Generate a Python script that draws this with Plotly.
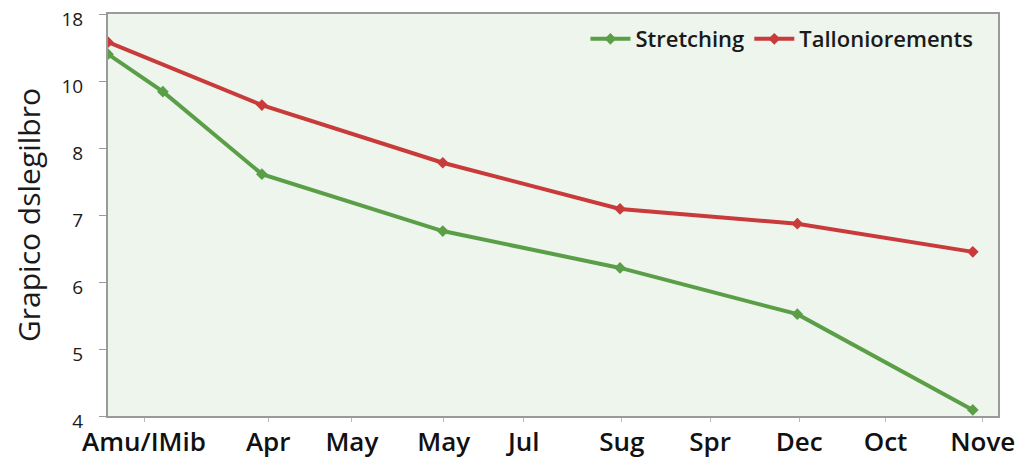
import plotly.graph_objects as go

# x tick labels and where they sit along the axis
month_labels = ["Amu/IMib", "Apr", "May", "May", "Jul", "Sug", "Spr", "Dec", "Oct", "Nove"]
month_pos = [0.4, 1.78, 2.71, 3.73, 4.62, 5.71, 6.69, 7.68, 8.64, 9.72]

# y tick labels (as printed) on an evenly spaced scale
y_tick_vals = [4, 5, 6, 7, 8, 9, 10]
y_tick_text = ["4", "5", "6", "7", "8", "10", "18"]

stretch_x = [0, 0.61, 1.71, 3.72, 5.69, 7.66, 9.61]
stretch_y = [9.40, 8.84, 7.61, 6.76, 6.21, 5.52, 4.09]

tallon_x = [0, 1.71, 3.72, 5.69, 7.66, 9.61]
tallon_y = [9.58, 8.64, 7.78, 7.09, 6.87, 6.45]

GREEN = "#5b9e48"
RED = "#c93a3b"
FONT = "Open Sans"

fig = go.Figure()
fig.add_trace(go.Scatter(
    x=stretch_x, y=stretch_y, name="Stretching", mode="lines+markers",
    line=dict(color=GREEN, width=4),
    marker=dict(symbol="diamond", size=9, color=GREEN),
))
fig.add_trace(go.Scatter(
    x=tallon_x, y=tallon_y, name="Talloniorements", mode="lines+markers",
    line=dict(color=RED, width=4),
    marker=dict(symbol="diamond", size=9, color=RED),
))

# page body has an 8px margin, so the figure is a bit smaller than the window
fig.update_layout(
    width=1016, height=454,
    margin=dict(l=100, r=26, t=6, b=46, autoexpand=False),
    paper_bgcolor="white",
    plot_bgcolor="#edf5ec",
    font=dict(family=FONT, color="#1a1a1a"),
    legend=dict(
        orientation="h", x=0.978, y=0.99, xanchor="right", yanchor="top",
        bgcolor="rgba(0,0,0,0)", font=dict(size=22, color="#1a1a1a", weight=600),
        itemwidth=40, tracegroupgap=0,
    ),
    showlegend=True,
)

fig.update_xaxes(
    range=[0, 9.89],
    tickvals=month_pos, ticktext=month_labels,
    tickfont=dict(size=26, color="#111111", weight=600),
    ticks="outside", ticklen=4, tickcolor="#bbbbbb",
    ticklabelstandoff=-2, ticklabeloverflow="allow",
    showgrid=False, zeroline=False, automargin=False,
    showline=True, linecolor="#9a9a9a", linewidth=2, mirror=True,
)

fig.update_yaxes(
    range=[4, 10],
    tickvals=y_tick_vals, ticktext=y_tick_text,
    tickfont=dict(size=19, color="#1a1a1a", weight=500),
    ticks="outside", ticklen=7, tickcolor="#9a9a9a",
    ticklabelstandoff=12, ticklabelshift=5, ticklabeloverflow="allow",
    showgrid=False, zeroline=False, automargin=False,
    showline=True, linecolor="#9a9a9a", linewidth=2, mirror=True,
    title=dict(text="Grapico dslegilbro", font=dict(size=30, color="#1a1a1a", weight=500), standoff=14),
)

fig.write_html("out.html")
